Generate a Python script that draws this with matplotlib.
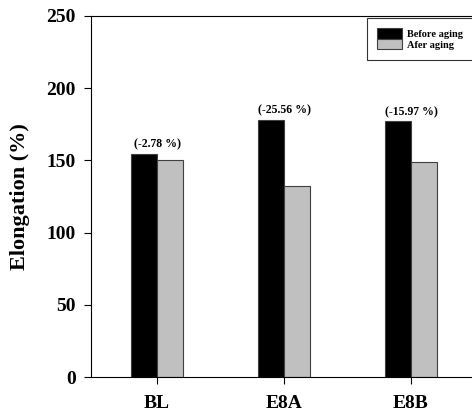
import numpy as np
import matplotlib
matplotlib.use("Agg")
import matplotlib.pyplot as plt

categories = ["BL", "E8A", "E8B"]
before_aging = [154.4, 178.0, 177.0]
after_aging = [150.1, 132.5, 148.7]
change_labels = ["(-2.78 %)", "(-25.56 %)", "(-15.97 %)"]

plt.rcParams["font.family"] = ["Liberation Serif", "DejaVu Serif"]
plt.rcParams["font.weight"] = "bold"

fig = plt.figure(figsize=(4.72, 4.13), dpi=100)
ax = fig.add_axes([91 / 472, 36 / 413, 386 / 472, 361 / 413])

x = np.arange(len(categories))
w = 0.205
ax.bar(x - w / 2, before_aging, w, color="black", edgecolor="#404040",
       linewidth=0.8, label="Before aging")
ax.bar(x + w / 2, after_aging, w, color="#c0c0c0", edgecolor="#404040",
       linewidth=0.8, label="Afer aging")

for xi, b, a, lab in zip(x, before_aging, after_aging, change_labels):
    ax.text(xi, max(b, a) + 2.5, lab, ha="center", va="bottom",
            fontsize=8.5, fontweight="bold")

ax.set_xlim(-0.52, 2.52)
ax.set_ylim(0, 250)
ax.set_yticks([0, 50, 100, 150, 200, 250])
ax.set_xticks(x)
ax.set_xticklabels(categories, fontsize=14, fontweight="bold")
ax.tick_params(axis="y", labelsize=14, direction="out", length=5, width=0.8, pad=6)
ax.tick_params(axis="x", direction="out", length=5, width=0.8, pad=8)
ax.set_ylabel("Elongation (%)", fontsize=16, fontweight="bold", va="center")
ax.yaxis.set_label_coords(-0.184, 0.5)
for s in ax.spines.values():
    s.set_linewidth(0.8)

leg = ax.legend(loc="upper right", bbox_to_anchor=(0.992, 1 - 2 / 361),
                prop={"size": 7.5, "weight": "bold"},
                frameon=True, fancybox=False, edgecolor="black",
                handlelength=2.4, handleheight=1.15, handletextpad=0.5,
                borderpad=1.0, labelspacing=0.0, borderaxespad=0)
leg.get_frame().set_linewidth(0.8)

fig.savefig("out.png", dpi=100)
